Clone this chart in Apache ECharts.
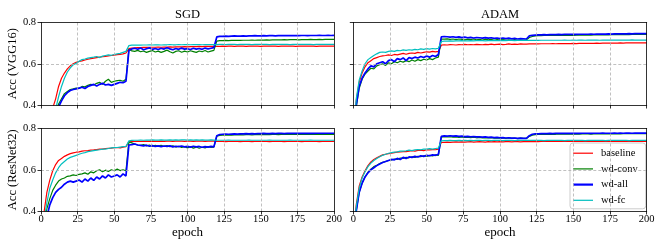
<!DOCTYPE html>
<html><head><meta charset="utf-8">
<script src="https://cdn.jsdelivr.net/npm/echarts@6/dist/echarts.min.js"></script>
<style>html,body{margin:0;padding:0;background:#fff}#c{width:664px;height:249px}</style>
</head><body><div id="c"></div>
<script>
const epochs=[0,2,4,6,8,10,12,14,16,18,20,22,24,26,28,30,32,34,36,38,40,42,44,46,48,50,52,54,56,58,
60,62,64,66,68,70,72,74,76,78,80,82,84,86,88,90,92,94,96,98,100,102,104,106,108,110,112,114,116,118,
120,122,124,126,128,130,132,134,136,138,140,142,144,146,148,150,152,154,156,158,160,162,164,166,168,170,
172,174,176,178,180,182,184,186,188,190,192,194,196,198,200];
const seriesNames=['baseline','wd-conv','wd-all','wd-fc'];
const optimizerTitles=['SGD','ADAM'];
const modelLabels=['Acc (VGG16)','Acc (ResNet32)'];
const xAxisLabel='epoch';

// SGD / VGG16
const sgdVggBaseline=[0.10,0.18,0.27,0.33,0.385,0.43,0.49,0.53,0.555,0.575,0.59,0.600,0.607,0.611,0.614,0.618,0.622,0.625,0.627,0.630,0.632,0.634,0.636,0.638,0.640,0.642,0.644,0.645,0.648,0.652,
0.673,0.676,0.677,0.678,0.678,0.679,0.679,0.680,0.680,0.680,0.681,0.680,0.681,0.681,0.682,0.681,0.682,0.682,0.682,0.683,0.682,0.683,0.683,0.683,0.684,0.683,0.684,0.684,0.684,0.684,
0.684,0.684,0.685,0.684,0.685,0.685,0.684,0.685,0.685,0.685,0.684,0.685,0.685,0.685,0.685,0.684,0.685,0.685,0.685,0.685,0.685,0.684,0.685,0.685,0.685,0.685,0.685,0.684,0.685,0.685,0.685,0.685,0.685,0.685,0.684,0.685,0.685,0.685,0.685,0.685,0.685];
const sgdVggConv=[0.12,0.18,0.24,0.29,0.33,0.37,0.405,0.43,0.455,0.465,0.475,0.478,0.482,0.480,0.490,0.488,0.495,0.500,0.497,0.505,0.510,0.500,0.515,0.525,0.510,0.515,0.518,0.520,0.515,0.525,
0.670,0.662,0.660,0.665,0.658,0.662,0.655,0.660,0.664,0.657,0.661,0.655,0.660,0.666,0.658,0.652,0.660,0.663,0.656,0.661,0.657,0.663,0.659,0.655,0.662,0.658,0.664,0.657,0.661,0.665,
0.710,0.712,0.712,0.713,0.712,0.713,0.713,0.714,0.713,0.714,0.714,0.714,0.715,0.714,0.715,0.715,0.715,0.716,0.715,0.716,0.716,0.716,0.716,0.717,0.716,0.717,0.717,0.717,0.716,0.717,0.717,0.717,0.718,0.717,0.717,0.718,0.717,0.718,0.718,0.718,0.718];
const sgdVggAll=[0.10,0.16,0.22,0.27,0.31,0.35,0.39,0.42,0.445,0.46,0.47,0.475,0.478,0.482,0.486,0.480,0.490,0.495,0.500,0.492,0.500,0.505,0.497,0.500,0.495,0.500,0.505,0.510,0.508,0.515,
0.665,0.672,0.675,0.670,0.676,0.668,0.673,0.677,0.670,0.674,0.669,0.675,0.671,0.678,0.672,0.668,0.674,0.670,0.676,0.671,0.673,0.669,0.675,0.671,0.674,0.670,0.676,0.672,0.675,0.678,
0.730,0.733,0.733,0.734,0.733,0.734,0.735,0.734,0.734,0.735,0.734,0.735,0.735,0.736,0.735,0.735,0.736,0.735,0.736,0.736,0.735,0.736,0.736,0.736,0.737,0.736,0.736,0.737,0.736,0.737,0.737,0.736,0.737,0.737,0.737,0.738,0.737,0.737,0.738,0.737,0.738];
const sgdVggFc=[0.08,0.14,0.20,0.26,0.33,0.38,0.44,0.49,0.53,0.56,0.58,0.595,0.602,0.612,0.620,0.623,0.627,0.630,0.632,0.635,0.630,0.637,0.640,0.643,0.641,0.645,0.648,0.650,0.655,0.660,
0.688,0.690,0.690,0.691,0.690,0.691,0.691,0.692,0.691,0.692,0.692,0.691,0.692,0.692,0.693,0.692,0.692,0.693,0.692,0.693,0.693,0.692,0.693,0.693,0.693,0.692,0.693,0.693,0.693,0.693,
0.693,0.694,0.694,0.693,0.694,0.694,0.694,0.693,0.694,0.694,0.694,0.694,0.693,0.694,0.694,0.694,0.694,0.694,0.693,0.694,0.694,0.694,0.694,0.694,0.694,0.693,0.694,0.694,0.694,0.694,0.694,0.694,0.694,0.693,0.694,0.694,0.694,0.694,0.694,0.694,0.694];

// ADAM / VGG16
const adamVggBaseline=[0.20,0.42,0.51,0.555,0.585,0.605,0.615,0.625,0.630,0.635,0.638,0.640,0.643,0.640,0.645,0.643,0.647,0.650,0.646,0.650,0.652,0.650,0.655,0.652,0.655,0.658,0.656,0.660,0.658,0.660,
0.690,0.692,0.691,0.693,0.692,0.691,0.693,0.692,0.694,0.692,0.693,0.692,0.694,0.693,0.692,0.694,0.693,0.695,0.693,0.694,0.695,0.693,0.694,0.696,0.694,0.695,0.694,0.696,0.695,0.695,
0.696,0.696,0.697,0.696,0.697,0.697,0.697,0.697,0.698,0.697,0.698,0.698,0.698,0.698,0.698,0.699,0.698,0.699,0.699,0.699,0.699,0.699,0.699,0.700,0.699,0.700,0.700,0.700,0.700,0.700,0.700,0.701,0.700,0.701,0.701,0.701,0.701,0.701,0.701,0.701,0.701];
const adamVggConv=[0.18,0.39,0.48,0.525,0.55,0.565,0.578,0.575,0.590,0.595,0.600,0.592,0.605,0.600,0.610,0.605,0.612,0.608,0.615,0.610,0.618,0.612,0.620,0.615,0.622,0.618,0.625,0.620,0.628,0.632,
0.720,0.719,0.721,0.718,0.720,0.717,0.720,0.718,0.716,0.719,0.717,0.720,0.716,0.718,0.715,0.719,0.716,0.718,0.714,0.717,0.715,0.718,0.714,0.716,0.713,0.717,0.714,0.716,0.713,0.716,
0.727,0.732,0.735,0.736,0.736,0.737,0.737,0.737,0.738,0.737,0.738,0.738,0.738,0.738,0.739,0.738,0.739,0.739,0.739,0.739,0.740,0.739,0.740,0.740,0.740,0.740,0.741,0.740,0.741,0.741,0.741,0.741,0.741,0.742,0.741,0.742,0.742,0.742,0.742,0.742,0.742];
const adamVggAll=[0.18,0.40,0.49,0.53,0.555,0.575,0.590,0.585,0.600,0.605,0.610,0.600,0.615,0.620,0.610,0.625,0.620,0.628,0.615,0.630,0.625,0.632,0.628,0.635,0.630,0.638,0.632,0.640,0.635,0.645,
0.730,0.732,0.731,0.729,0.731,0.728,0.730,0.727,0.729,0.726,0.728,0.725,0.727,0.726,0.724,0.727,0.724,0.726,0.723,0.725,0.722,0.725,0.722,0.724,0.721,0.723,0.720,0.722,0.721,0.720,
0.735,0.738,0.739,0.740,0.740,0.741,0.740,0.741,0.741,0.741,0.742,0.741,0.742,0.742,0.742,0.743,0.742,0.743,0.743,0.743,0.743,0.744,0.743,0.744,0.744,0.744,0.744,0.745,0.744,0.745,0.745,0.745,0.745,0.745,0.746,0.745,0.746,0.746,0.746,0.746,0.746];
const adamVggFc=[0.22,0.43,0.52,0.565,0.600,0.620,0.630,0.640,0.648,0.655,0.657,0.655,0.660,0.662,0.660,0.665,0.663,0.667,0.665,0.668,0.666,0.670,0.668,0.672,0.670,0.673,0.671,0.674,0.672,0.675,
0.708,0.710,0.710,0.711,0.710,0.711,0.711,0.712,0.711,0.711,0.712,0.711,0.712,0.712,0.712,0.711,0.712,0.712,0.713,0.712,0.712,0.713,0.712,0.713,0.713,0.712,0.713,0.713,0.713,0.713,
0.713,0.713,0.714,0.713,0.714,0.714,0.714,0.714,0.714,0.714,0.714,0.714,0.715,0.714,0.714,0.715,0.714,0.715,0.715,0.714,0.715,0.715,0.715,0.715,0.714,0.715,0.715,0.715,0.715,0.715,0.715,0.715,0.715,0.715,0.715,0.716,0.715,0.715,0.715,0.715,0.715];

// SGD / ResNet32
const sgdResBaseline=[0.25,0.39,0.49,0.55,0.595,0.625,0.645,0.655,0.665,0.672,0.678,0.682,0.685,0.687,0.690,0.692,0.693,0.695,0.696,0.698,0.700,0.700,0.703,0.704,0.705,0.707,0.708,0.706,0.710,0.712,
0.735,0.737,0.737,0.738,0.737,0.738,0.738,0.738,0.739,0.738,0.738,0.739,0.738,0.739,0.739,0.738,0.739,0.739,0.739,0.738,0.739,0.739,0.738,0.739,0.739,0.739,0.738,0.739,0.739,0.739,
0.737,0.737,0.737,0.736,0.737,0.737,0.737,0.737,0.736,0.737,0.737,0.737,0.736,0.737,0.737,0.737,0.737,0.737,0.736,0.737,0.737,0.737,0.737,0.736,0.737,0.737,0.737,0.737,0.737,0.736,0.737,0.737,0.737,0.737,0.737,0.736,0.737,0.737,0.737,0.737,0.737];
const sgdResConv=[0.20,0.32,0.41,0.46,0.50,0.525,0.545,0.555,0.560,0.568,0.570,0.575,0.572,0.578,0.580,0.585,0.578,0.590,0.585,0.595,0.600,0.590,0.598,0.592,0.600,0.595,0.603,0.596,0.600,0.595,
0.735,0.730,0.725,0.720,0.718,0.722,0.716,0.720,0.714,0.718,0.715,0.719,0.713,0.717,0.712,0.716,0.710,0.714,0.708,0.712,0.706,0.712,0.705,0.710,0.704,0.709,0.706,0.712,0.708,0.710,
0.763,0.767,0.768,0.768,0.769,0.768,0.769,0.769,0.770,0.769,0.770,0.770,0.769,0.770,0.770,0.771,0.770,0.771,0.770,0.771,0.771,0.770,0.771,0.771,0.771,0.772,0.771,0.771,0.772,0.771,0.772,0.771,0.772,0.772,0.771,0.772,0.772,0.772,0.772,0.772,0.772];
const sgdResAll=[0.15,0.26,0.37,0.43,0.465,0.490,0.505,0.515,0.530,0.540,0.545,0.540,0.545,0.550,0.540,0.555,0.545,0.560,0.548,0.565,0.555,0.570,0.560,0.575,0.565,0.570,0.575,0.565,0.580,0.570,
0.720,0.722,0.725,0.720,0.718,0.716,0.719,0.714,0.717,0.713,0.716,0.712,0.715,0.713,0.716,0.711,0.714,0.712,0.715,0.711,0.713,0.710,0.714,0.711,0.713,0.709,0.712,0.710,0.713,0.711,
0.765,0.771,0.772,0.773,0.772,0.773,0.774,0.773,0.774,0.774,0.775,0.774,0.775,0.774,0.775,0.775,0.776,0.775,0.775,0.776,0.775,0.776,0.776,0.775,0.776,0.776,0.776,0.777,0.776,0.776,0.777,0.776,0.777,0.776,0.777,0.777,0.776,0.777,0.777,0.777,0.777];
const sgdResFc=[0.22,0.35,0.44,0.51,0.55,0.585,0.610,0.628,0.640,0.652,0.660,0.665,0.670,0.675,0.680,0.683,0.688,0.690,0.693,0.695,0.697,0.700,0.700,0.703,0.706,0.707,0.708,0.710,0.712,0.713,
0.740,0.742,0.743,0.743,0.744,0.743,0.744,0.744,0.745,0.744,0.744,0.745,0.744,0.744,0.745,0.744,0.745,0.744,0.745,0.745,0.744,0.745,0.744,0.745,0.744,0.745,0.744,0.744,0.745,0.744,
0.743,0.743,0.743,0.743,0.744,0.743,0.743,0.743,0.743,0.743,0.743,0.744,0.743,0.743,0.743,0.743,0.743,0.743,0.744,0.743,0.743,0.743,0.743,0.743,0.743,0.744,0.743,0.743,0.743,0.743,0.743,0.743,0.744,0.743,0.743,0.743,0.743,0.743,0.743,0.743,0.743];

// ADAM / ResNet32
const adamResBaseline=[0.25,0.43,0.52,0.565,0.595,0.620,0.638,0.650,0.658,0.665,0.672,0.675,0.678,0.680,0.683,0.685,0.686,0.688,0.688,0.690,0.692,0.690,0.694,0.695,0.693,0.697,0.696,0.698,0.697,0.700,
0.732,0.733,0.734,0.733,0.734,0.735,0.734,0.735,0.734,0.735,0.736,0.734,0.735,0.736,0.735,0.734,0.736,0.735,0.736,0.735,0.736,0.735,0.736,0.736,0.735,0.736,0.736,0.735,0.736,0.736,
0.736,0.736,0.737,0.736,0.737,0.737,0.737,0.737,0.737,0.737,0.737,0.738,0.737,0.737,0.738,0.737,0.738,0.738,0.737,0.738,0.738,0.738,0.738,0.738,0.737,0.738,0.738,0.738,0.738,0.738,0.738,0.738,0.738,0.739,0.738,0.738,0.738,0.738,0.739,0.738,0.738];
const adamResConv=[0.22,0.40,0.49,0.535,0.565,0.588,0.603,0.615,0.622,0.630,0.636,0.640,0.645,0.648,0.652,0.650,0.657,0.655,0.660,0.658,0.663,0.660,0.665,0.663,0.668,0.665,0.670,0.667,0.672,0.670,
0.758,0.760,0.759,0.760,0.758,0.759,0.757,0.759,0.757,0.758,0.756,0.758,0.755,0.757,0.755,0.756,0.754,0.756,0.753,0.755,0.753,0.754,0.752,0.754,0.752,0.753,0.751,0.753,0.752,0.752,
0.762,0.768,0.770,0.771,0.771,0.772,0.771,0.772,0.772,0.772,0.773,0.772,0.773,0.773,0.773,0.774,0.773,0.773,0.774,0.774,0.774,0.773,0.774,0.774,0.774,0.775,0.774,0.774,0.775,0.774,0.775,0.774,0.775,0.775,0.775,0.775,0.775,0.775,0.775,0.775,0.775];
const adamResAll=[0.22,0.40,0.49,0.535,0.565,0.585,0.600,0.610,0.620,0.628,0.635,0.640,0.645,0.650,0.648,0.655,0.650,0.660,0.655,0.662,0.660,0.665,0.662,0.668,0.665,0.670,0.668,0.672,0.670,0.675,
0.762,0.764,0.763,0.765,0.763,0.764,0.762,0.763,0.761,0.762,0.760,0.761,0.759,0.760,0.758,0.759,0.757,0.758,0.756,0.757,0.755,0.756,0.754,0.755,0.753,0.754,0.752,0.753,0.752,0.752,
0.765,0.772,0.774,0.774,0.775,0.775,0.775,0.776,0.775,0.776,0.776,0.776,0.776,0.777,0.776,0.776,0.777,0.776,0.777,0.777,0.777,0.776,0.777,0.777,0.777,0.778,0.777,0.777,0.777,0.778,0.777,0.778,0.777,0.778,0.778,0.777,0.778,0.778,0.778,0.778,0.778];
const adamResFc=[0.24,0.42,0.51,0.560,0.590,0.615,0.632,0.645,0.655,0.663,0.670,0.675,0.680,0.683,0.685,0.687,0.690,0.690,0.692,0.695,0.693,0.696,0.698,0.697,0.700,0.700,0.702,0.700,0.703,0.705,
0.740,0.741,0.741,0.742,0.741,0.741,0.742,0.741,0.742,0.741,0.742,0.741,0.742,0.742,0.741,0.742,0.742,0.741,0.742,0.742,0.742,0.741,0.742,0.742,0.742,0.741,0.742,0.742,0.742,0.742,
0.742,0.742,0.742,0.742,0.742,0.741,0.742,0.742,0.742,0.742,0.742,0.742,0.741,0.742,0.742,0.742,0.742,0.742,0.742,0.741,0.742,0.742,0.742,0.742,0.742,0.742,0.741,0.742,0.742,0.742,0.742,0.742,0.742,0.742,0.741,0.742,0.742,0.742,0.742,0.742,0.742];

const panels=[
  [sgdVggBaseline,sgdVggConv,sgdVggAll,sgdVggFc],
  [adamVggBaseline,adamVggConv,adamVggAll,adamVggFc],
  [sgdResBaseline,sgdResConv,sgdResAll,sgdResFc],
  [adamResBaseline,adamResConv,adamResAll,adamResFc]
];

const FONT='"Liberation Serif","DejaVu Serif",serif';
const colors=['#ff0000','#008000','#0000ff','#00bfbf'];
const widths=[1.2,1.2,1.7,1.2];
const gridPos=[
  {left:41,top:22.5,width:293,height:82.5},
  {left:353.3,top:22.5,width:293.4,height:82.5},
  {left:41,top:128.5,width:293,height:82.5},
  {left:353.3,top:128.5,width:293.4,height:82.5}
];
const grids=gridPos.map(g=>Object.assign({show:false,containLabel:false},g));
const xAxes=[],yAxes=[],series=[];
const splitStyle={type:[3,2],color:'#b0b0b0',width:0.8};
for(let p=0;p<4;p++){
  const bottom=p>=2,left=p%2===0;
  // bottom & left axes with labels
  xAxes.push({type:'value',gridIndex:p,min:0,max:200,interval:25,position:'bottom',
    axisLine:{show:true,onZero:false,lineStyle:{color:'#000',width:0.8}},
    axisTick:{show:true,inside:false,length:3.5,lineStyle:{color:'#000',width:0.8}},
    axisLabel:{show:bottom,showMinLabel:true,showMaxLabel:true,margin:3,fontFamily:FONT,fontSize:10.5,color:'#000'},
    splitLine:{show:true,showMinLine:false,showMaxLine:false,lineStyle:splitStyle},
    name:bottom?xAxisLabel:'',nameLocation:'middle',nameGap:14,
    nameTextStyle:{fontFamily:FONT,fontSize:13,color:'#000'},z:5});
  yAxes.push({type:'value',gridIndex:p,min:0.4,max:0.8,interval:0.2,position:'left',
    axisLine:{show:true,onZero:false,lineStyle:{color:'#000',width:0.8}},
    axisTick:{show:true,inside:false,length:3.5,lineStyle:{color:'#000',width:0.8}},
    axisLabel:{show:left,margin:5,fontFamily:FONT,fontSize:10.5,color:'#000',formatter:v=>v.toFixed(1)},
    splitLine:{show:true,showMinLine:false,showMaxLine:false,lineStyle:splitStyle},
    name:left?modelLabels[p>>1]:'',nameLocation:'middle',nameRotate:90,nameGap:15,
    nameTextStyle:{fontFamily:FONT,fontSize:12.5,color:'#000'},z:5});
}
// frame: top & right axes (lines only)
for(let p=0;p<4;p++){
  xAxes.push({type:'value',gridIndex:p,min:0,max:200,interval:25,position:'top',
    axisLine:{show:true,onZero:false,lineStyle:{color:'#000',width:0.8}},
    axisTick:{show:false},axisLabel:{show:false},splitLine:{show:false},z:5});
  yAxes.push({type:'value',gridIndex:p,min:0.4,max:0.8,interval:0.2,position:'right',
    axisLine:{show:true,onZero:false,lineStyle:{color:'#000',width:0.8}},
    axisTick:{show:false},axisLabel:{show:false},splitLine:{show:false},z:5});
}
const legendIcons={
  'baseline':'path://M0,0 H20 V1.2 H0 Z',
  'wd-conv':'path://M0,0 H20 V1.2 H0 Z',
  'wd-all':'path://M0,0 H20 V2.2 H0 Z',
  'wd-fc':'path://M0,0 H20 V1.2 H0 Z'
};
for(let p=0;p<4;p++){
  panels[p].forEach((vals,k)=>{
    series.push({type:'line',name:seriesNames[k],xAxisIndex:p,yAxisIndex:p,
      data:epochs.map((e,i)=>[e,vals[i]]),symbol:'none',showSymbol:false,clip:true,
      lineStyle:{color:colors[k],width:widths[k]},itemStyle:{color:colors[k]},
      emphasis:{disabled:true},animation:false,z:2});
  });
}
const chart=echarts.init(document.getElementById('c'),null,{renderer:'canvas'});
chart.setOption({
  animation:false,
  backgroundColor:'#fff',
  title:optimizerTitles.map((t,i)=>({text:t,left:i===0?187.5:500,top:8,textAlign:'center',padding:0,
    textStyle:{fontFamily:FONT,fontSize:12.5,fontWeight:'normal',color:'#000'}})),
  grid:grids,xAxis:xAxes,yAxis:yAxes,series:series,
  legend:{data:seriesNames.map(n=>({name:n,icon:legendIcons[n]})),orient:'vertical',left:570,top:143,
    itemWidth:20,itemHeight:10,itemGap:4.7,symbolKeepAspect:true,
    padding:[4.7,8,3,3],backgroundColor:'rgba(255,255,255,0.85)',borderColor:'#cccccc',borderWidth:1,borderRadius:3,
    selectedMode:false,textStyle:{fontFamily:FONT,fontSize:10.5,color:'#000',padding:[0,0,0,3]}}
});
</script></body></html>
